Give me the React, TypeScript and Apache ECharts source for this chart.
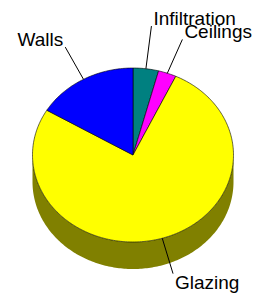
import React, { useEffect, useRef } from "react";
import * as echarts from "echarts";

const categories = ["Infiltration", "Ceilings", "Glazing", "Walls"];
const values = [4.1, 2.9, 76.6, 16.4];
const topColors = ["#008080", "#FF00FF", "#FFFF00", "#0000FF"];
const sideColors = ["#004040", "#800080", "#808000", "#000080"];

export default function App() {
  const ref = useRef<HTMLDivElement>(null);
  useEffect(() => {
    document.body.style.margin = "0";
    if (!ref.current) return;
    const chart = echarts.init(ref.current, null, { renderer: "svg" });
    const cx = 133, cy = 155, rx = 100.5, ry = 87, depth = 27;
    const total = values.reduce((a, b) => a + b, 0);
    const rad = (d: number) => (d * Math.PI) / 180;
    const pt = (deg: number, dy = 0) => [cx + rx * Math.sin(rad(deg)), cy - ry * Math.cos(rad(deg)) + dy];
    const leaderLen = [43, 37, 37, 37];
    const leaderTurn = [0, 4, 0, 0];

    const option = {
      animation: false,
      backgroundColor: "#ffffff",
      series: [
        {
          type: "custom",
          coordinateSystem: "none",
          data: categories.map((c, i) => ({ name: c, value: [values[i]] })),
          renderItem: (params: any, api: any) => {
            const i = params.dataIndex;
            const v = api.value(0);
            let cum = 0;
            for (let j = 0; j < i; j++) cum += values[j];
            const a = (cum / total) * 360;
            const b = ((cum + v) / total) * 360;
            const children: any[] = [];
            // side
            const s0 = Math.max(a, 90), s1 = Math.min(b, 270);
            if (s1 > s0) {
              const pts: number[][] = [];
              for (let d = s0; d <= s1; d += 1) pts.push(pt(d));
              pts.push(pt(s1));
              const back: number[][] = [];
              back.push(pt(s1, depth));
              for (let d = s1; d >= s0; d -= 1) back.push(pt(d, depth));
              back.push(pt(s0, depth));
              children.push({
                type: "polygon",
                shape: { points: pts.concat(back) },
                style: { fill: sideColors[i], stroke: null },
              });
            }
            // top
            const tp: number[][] = [[cx, cy]];
            for (let d = a; d < b; d += 1) tp.push(pt(d));
            tp.push(pt(b));
            children.push({
              type: "polygon",
              shape: { points: tp },
              style: { fill: topColors[i], stroke: "#000", lineWidth: 0.6 },
            });
            // leader
            const m = (a + b) / 2;
            const st = pt(m);
            const L = leaderLen[i];
            const dir = m + leaderTurn[i];
            const en = [st[0] + L * Math.sin(rad(dir)), st[1] - L * Math.cos(rad(dir))];
            children.push({
              type: "line",
              shape: { x1: st[0], y1: st[1], x2: en[0], y2: en[1] },
              style: { stroke: "#000", lineWidth: 1 },
            });
            const right = Math.sin(rad(m)) >= 0;
            const upper = Math.cos(rad(m)) >= 0;
            children.push({
              type: "text",
              style: {
                text: categories[i],
                x: en[0] + (right ? 2 : -2),
                y: en[1] + (upper ? -7.5 : 9),
                align: right ? "left" : "right",
                verticalAlign: "middle",
                font: '19px "Liberation Sans", Arial, sans-serif',
                fill: "#000",
              },
            });
            return { type: "group", children };
          },
        },
      ],
    };
    chart.setOption(option as any);
    return () => chart.dispose();
  }, []);
  return <div ref={ref} style={{ width: 253, height: 295 }} />;
}
